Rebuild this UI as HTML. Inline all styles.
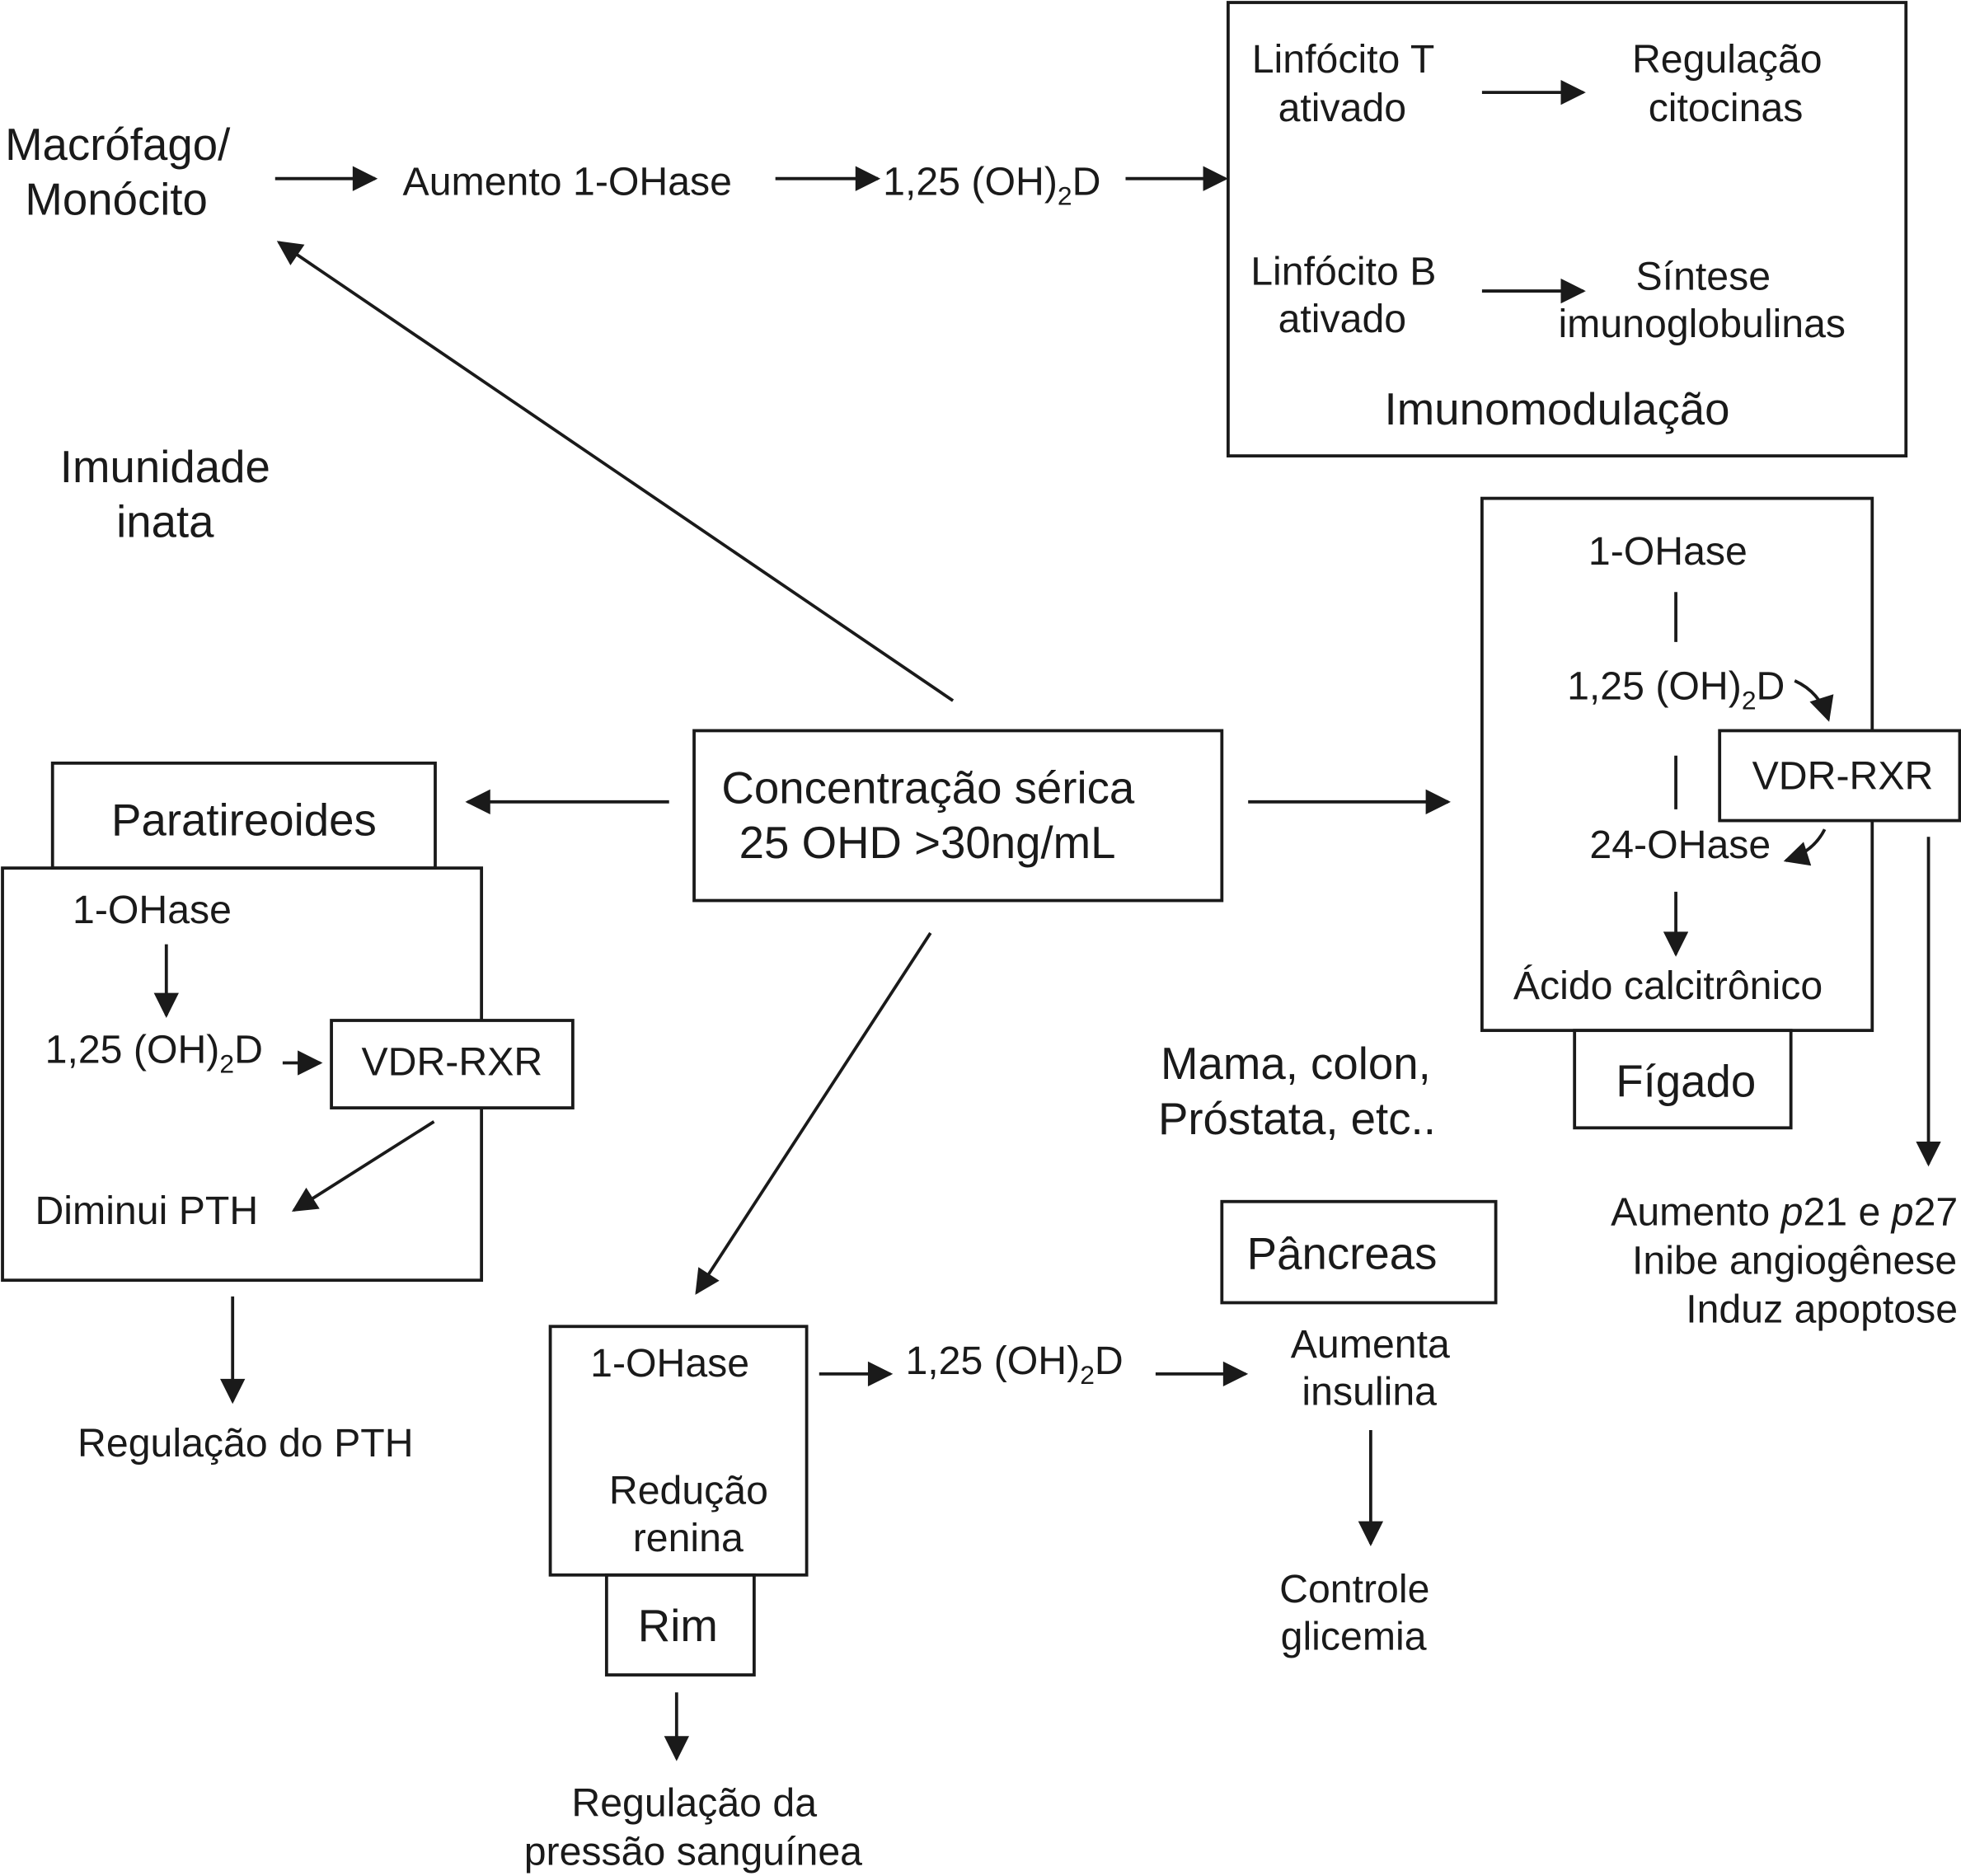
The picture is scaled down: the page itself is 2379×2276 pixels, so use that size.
<!DOCTYPE html>
<html><head><meta charset="utf-8"><style>html,body{margin:0;padding:0;background:#fff}svg{display:block}text{font-family:"Liberation Sans",Arial,sans-serif;fill:#1a1a1a}</style></head><body>
<svg width="2379" height="2276" viewBox="0 0 1568 1502" preserveAspectRatio="none" xmlns="http://www.w3.org/2000/svg">
<defs><marker id="b" viewBox="0 0 10 10" refX="9" refY="5" markerWidth="22" markerHeight="20" markerUnits="userSpaceOnUse" orient="auto"><path d="M0,0L10,5L0,10z" fill="#1a1a1a"/></marker></defs>
<g fill="none" stroke="#1a1a1a" stroke-width="2.5">
<rect x="982" y="2" width="542" height="363"/>
<rect x="1185" y="399" width="312" height="426"/>
<rect x="1375" y="585" width="192" height="72" fill="#fff"/>
<rect x="1259" y="825" width="173" height="78"/>
<rect x="555" y="585" width="422" height="136"/>
<rect x="42" y="611" width="306" height="84"/>
<rect x="2" y="695" width="383" height="330"/>
<rect x="265" y="817" width="193" height="70" fill="#fff"/>
<rect x="977" y="962" width="219" height="81"/>
<rect x="440" y="1062" width="205" height="199"/>
<rect x="485" y="1261" width="118" height="80"/>
</g>
<g stroke="#1a1a1a" stroke-width="2.5" marker-end="url(#b)">
<line x1="220" y1="143" x2="300" y2="143"/>
<line x1="620" y1="143" x2="702" y2="143"/>
<line x1="900" y1="143" x2="980" y2="143"/>
<line x1="1185" y1="74" x2="1266" y2="74"/>
<line x1="1185" y1="233" x2="1266" y2="233"/>
<line x1="762" y1="561" x2="223" y2="194"/>
<line x1="535" y1="642" x2="374" y2="642"/>
<line x1="998" y1="642" x2="1158" y2="642"/>
<line x1="744" y1="747" x2="557" y2="1035"/>
<line x1="133" y1="756" x2="133" y2="813"/>
<line x1="226" y1="851" x2="256" y2="851"/>
<line x1="347" y1="898" x2="235" y2="969"/>
<line x1="186" y1="1038" x2="186" y2="1122"/>
<line x1="655" y1="1100" x2="712" y2="1100"/>
<line x1="924" y1="1100" x2="996" y2="1100"/>
<line x1="1096" y1="1145" x2="1096" y2="1236"/>
<line x1="541" y1="1355" x2="541" y2="1408"/>
<line x1="1340" y1="714" x2="1340" y2="764"/>
<line x1="1542" y1="670" x2="1542" y2="932"/>
</g>
<g stroke="#1a1a1a" stroke-width="2.5" fill="none">
<line x1="1340" y1="474" x2="1340" y2="514"/>
<line x1="1340" y1="605" x2="1340" y2="648"/>
<path d="M1435,545 Q1455,554 1462,576" marker-end="url(#b)"/>
<path d="M1459,664 Q1450,682 1428,689" marker-end="url(#b)"/>
</g>
<g font-size="36">
<text x="4" y="128">Macrófago/</text>
<text x="20" y="172">Monócito</text>
<text x="48" y="386">Imunidade</text>
<text x="93" y="430">inata</text>
<text x="1107" y="340">Imunomodulação</text>
<text x="577" y="643">Concentração sérica</text>
<text x="591" y="687">25 OHD &gt;30ng/mL</text>
<text x="89" y="669">Paratireoides</text>
<text x="928" y="864">Mama, colon,</text>
<text x="926" y="908">Próstata, etc..</text>
<text x="1292" y="878">Fígado</text>
<text x="997" y="1016">Pâncreas</text>
<text x="510" y="1314">Rim</text>
</g>
<g font-size="31.8">
<text x="322" y="156">Aumento 1-OHase</text>
<text x="706" y="156">1,25 (OH)<tspan font-size="21" dy="8">2</tspan><tspan dy="-8">D</tspan></text>
<text x="1001" y="58">Linfócito T</text>
<text x="1022" y="97">ativado</text>
<text x="1305" y="58">Regulação</text>
<text x="1318" y="97">citocinas</text>
<text x="1000" y="228">Linfócito B</text>
<text x="1022" y="266">ativado</text>
<text x="1308" y="232">Síntese</text>
<text x="1246" y="270">imunoglobulinas</text>
<text x="1270" y="452">1-OHase</text>
<text x="1253" y="560">1,25 (OH)<tspan font-size="21" dy="8">2</tspan><tspan dy="-8">D</tspan></text>
<text x="1401" y="632">VDR-RXR</text>
<text x="1271" y="687">24-OHase</text>
<text x="1210" y="800">Ácido calcitrônico</text>
<text x="1288" y="981">Aumento <tspan font-style="italic">p</tspan>21 e <tspan font-style="italic">p</tspan>27</text>
<text x="1305" y="1020">Inibe angiogênese</text>
<text x="1348" y="1059">Induz apoptose</text>
<text x="58" y="739">1-OHase</text>
<text x="36" y="851">1,25 (OH)<tspan font-size="21" dy="8">2</tspan><tspan dy="-8">D</tspan></text>
<text x="289" y="861">VDR-RXR</text>
<text x="28" y="980">Diminui PTH</text>
<text x="62" y="1166">Regulação do PTH</text>
<text x="472" y="1102">1-OHase</text>
<text x="487" y="1204">Redução</text>
<text x="506" y="1242">renina</text>
<text x="724" y="1100">1,25 (OH)<tspan font-size="21" dy="8">2</tspan><tspan dy="-8">D</tspan></text>
<text x="1032" y="1087">Aumenta</text>
<text x="1041" y="1125">insulina</text>
<text x="1023" y="1283">Controle</text>
<text x="1024" y="1321">glicemia</text>
<text x="457" y="1454">Regulação da</text>
<text x="419" y="1493">pressão sanguínea</text>
</g>
</svg>
</body></html>
